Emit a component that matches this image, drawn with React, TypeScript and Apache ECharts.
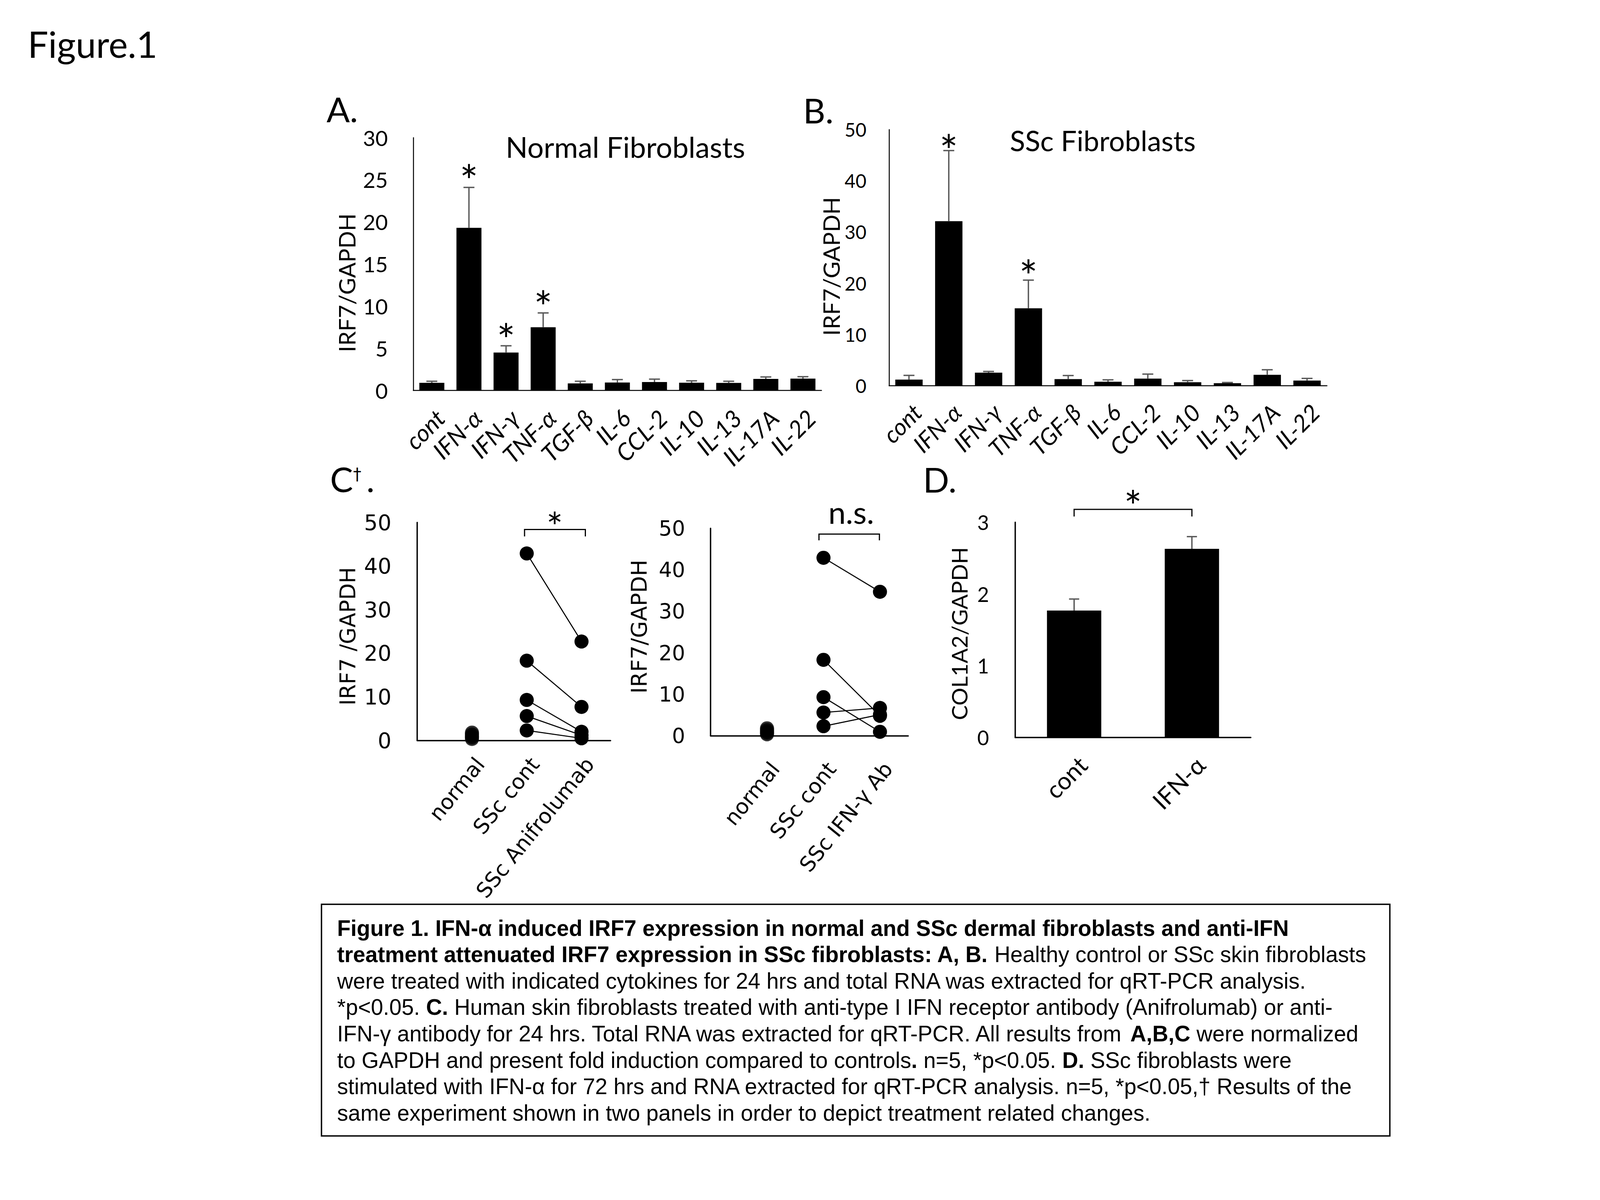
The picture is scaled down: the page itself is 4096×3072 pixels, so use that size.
import React, { useEffect, useRef } from 'react';
import * as echarts from 'echarts';

// ---------------- data ----------------
const cytokines = ['cont', 'IFN-α', 'IFN-γ', 'TNF-α', 'TGF-β', 'IL-6', 'CCL-2', 'IL-10', 'IL-13', 'IL-17A', 'IL-22'];
const normalMean = [0.9, 19.3, 4.5, 7.5, 0.83, 0.94, 1.0, 0.91, 0.89, 1.37, 1.4];
const normalErrTop = [1.09, 24.1, 5.3, 9.2, 1.09, 1.29, 1.34, 1.14, 1.09, 1.6, 1.63];
const normalStars = [[1, 1, 26], [2, 2, 7.1], [3, 3, 11]];
const sscMean = [1.17, 32.1, 2.54, 15.1, 1.27, 0.75, 1.36, 0.66, 0.47, 2.11, 0.99];
const sscErrTop = [2.0, 45.9, 2.77, 20.6, 1.97, 1.13, 2.25, 0.99, 0.61, 3.1, 1.41];
const sscStars = [[1, 1, 47.7], [3, 3, 23.2]];

const groupsC1 = ['normal', 'SSc cont', 'SSc Anifrolumab'];
const groupsC2 = ['normal', 'SSc cont', 'SSc IFN-γ Ab'];
const normalIRF7 = [1.8, 1.4, 1.0, 0.7, 0.35];
const sscContIRF7 = [42.9, 18.3, 9.3, 5.6, 2.3];
const anifrolumabIRF7 = [22.7, 7.7, 2.0, 1.2, 0.5];
const ifngAbIRF7 = [34.7, 4.8, 0.95, 6.7, 5.1];
const bracketC1 = [[1.96, 3.07, 48.4, 46.8]];
const starC1 = [[2.51, 2.51, 50.95]];
const bracketC2 = [[1.92, 2.99, 48.6, 47.1]];
const nsC2 = [[2.49, 2.49, 53.0]];

const groupsD = ['cont', 'IFN-α'];
const col1a2Mean = [1.77, 2.63];
const col1a2ErrTop = [1.93, 2.8];
const bracketD = [[0, 1, 3.18, 3.08]];
const starD = [[0, 1, 3.35]];

const axisA = { min: 0, max: 30, interval: 5 };
const axisB = { min: 0, max: 50, interval: 10 };
const axisC = { min: 0, max: 50, interval: 10 };
const axisD = { min: 0, max: 3, interval: 1 };

const captionLines = [
  '{b|Figure 1. IFN-α induced IRF7 expression in normal and SSc dermal fibroblasts and anti-IFN}',
  '{b|treatment attenuated IRF7 expression in SSc fibroblasts: A, B.}{n| Healthy control or SSc skin fibroblasts}',
  '{n|were treated with indicated cytokines for 24 hrs and total RNA was extracted for qRT-PCR analysis.}',
  '{n|*p<0.05. }{b|C.}{n| Human skin fibroblasts treated with anti-type I IFN receptor antibody (Anifrolumab) or anti-}',
  '{n|IFN-γ antibody for 24 hrs. Total RNA was extracted for qRT-PCR. All results from }{b|A,B,C}{n| were normalized}',
  '{n|to GAPDH and present fold induction compared to controls}{b|.}{n| n=5, *p<0.05. }{b|D.}{n| SSc fibroblasts were}',
  '{n|stimulated with IFN-α for 72 hrs and RNA extracted for qRT-PCR analysis. n=5, *p<0.05,† Results of the}',
  '{n|same experiment shown in two panels in order to depict treatment related changes.}',
];

// ---------------- styles ----------------
const W = 4096;
const H = 3072;
const LATO = "Lato, 'Open Sans', sans-serif";
const DEJAVU = "'DejaVu Sans', Verdana, sans-serif";
const ARIAL = "'Liberation Sans', Arial, sans-serif";
const ERR = '#595959';

function errorBars(ai: number, means: number[], tops: number[], capW: number, lw: number) {
  return {
    type: 'custom',
    xAxisIndex: ai,
    yAxisIndex: ai,
    silent: true,
    z: 4,
    encode: { x: 0, y: 2 },
    data: means.map((m, i) => [i, m, tops[i]]),
    renderItem: (_p: any, api: any) => {
      const i = api.value(0);
      const p0 = api.coord([i, api.value(1)]);
      const p1 = api.coord([i, api.value(2)]);
      const st = { stroke: ERR, lineWidth: lw };
      return {
        type: 'group',
        children: [
          { type: 'line', shape: { x1: p0[0], y1: p0[1], x2: p1[0], y2: p1[1] }, style: st },
          { type: 'line', shape: { x1: p1[0] - capW / 2, y1: p1[1], x2: p1[0] + capW / 2, y2: p1[1] }, style: st },
        ],
      };
    },
  };
}

function annot(ai: number, items: number[][], text: string, fontSize: number, fontFamily: string, dyEm: number) {
  return {
    type: 'custom',
    xAxisIndex: ai,
    yAxisIndex: ai,
    silent: true,
    clip: false,
    z: 6,
    encode: { x: 0, y: 2 },
    data: items,
    renderItem: (_p: any, api: any) => {
      const a = api.coord([api.value(0), api.value(2)]);
      const b = api.coord([api.value(1), api.value(2)]);
      return {
        type: 'text',
        x: (a[0] + b[0]) / 2,
        y: a[1] + dyEm * fontSize,
        style: { text, fill: '#000', fontSize, fontFamily, align: 'center', verticalAlign: 'middle' },
      };
    },
  };
}

function bracket(ai: number, items: number[][], lw: number) {
  return {
    type: 'custom',
    xAxisIndex: ai,
    yAxisIndex: ai,
    silent: true,
    clip: false,
    z: 6,
    encode: { x: 0, y: 2 },
    data: items,
    renderItem: (_p: any, api: any) => {
      const xa = api.value(0);
      const xb = api.value(1);
      const yt = api.value(2);
      const yk = api.value(3);
      const pts = [api.coord([xa, yk]), api.coord([xa, yt]), api.coord([xb, yt]), api.coord([xb, yk])];
      return { type: 'polyline', shape: { points: pts }, style: { stroke: '#000', fill: 'none', lineWidth: lw } };
    },
  };
}

function yAxisOf(gi: number, rng: any, font: string, size: number, margin: number, lw: number) {
  return {
    type: 'value',
    gridIndex: gi,
    min: rng.min,
    max: rng.max,
    interval: rng.interval,
    axisLine: { show: true, lineStyle: { color: '#000', width: lw } },
    axisTick: { show: false },
    splitLine: { show: false },
    axisLabel: { margin, color: '#000', fontFamily: font, fontSize: size },
  };
}

function catAxis(gi: number, cats: string[], size: number, italic: boolean, margin: number, lw: number) {
  return {
    type: 'category',
    gridIndex: gi,
    data: cats,
    axisLine: { show: true, lineStyle: { color: '#000', width: lw } },
    axisTick: { show: false },
    splitLine: { show: false },
    axisLabel: {
      interval: 0,
      rotate: 45,
      margin,
      color: '#000',
      fontFamily: LATO,
      fontSize: size,
      fontStyle: italic ? 'italic' : 'normal',
      align: 'right',
      verticalAlign: 'top',
    },
  };
}

function groupAxis(gi: number, groups: string[], max: number, margin: number) {
  return {
    type: 'value',
    gridIndex: gi,
    min: 0,
    max,
    interval: 1,
    axisLine: { show: true, lineStyle: { color: '#000', width: 3.5 } },
    axisTick: { show: false },
    splitLine: { show: false },
    axisLabel: {
      showMaxLabel: false,
      rotate: 51,
      margin,
      color: '#000',
      fontFamily: DEJAVU,
      fontSize: 54,
      align: 'right',
      verticalAlign: 'top',
      formatter: (v: number) => (Number.isInteger(v) && v >= 1 && v <= groups.length ? groups[v - 1] : ''),
    },
  };
}

function pairedLines(ai: number, before: number[], after: number[]) {
  return before.map((v, i) => ({
    type: 'line',
    xAxisIndex: ai,
    yAxisIndex: ai,
    clip: false,
    silent: true,
    z: 3,
    data: [
      [2, v],
      [3, after[i]],
    ],
    symbol: 'circle',
    symbolSize: 36,
    itemStyle: { color: '#000' },
    lineStyle: { color: '#000', width: 2.7 },
  }));
}

function normalDots(ai: number) {
  return {
    type: 'scatter',
    xAxisIndex: ai,
    yAxisIndex: ai,
    clip: false,
    silent: true,
    z: 3,
    symbol: 'circle',
    symbolSize: 36,
    itemStyle: { color: '#000' },
    data: normalIRF7.map((v) => [1, v]),
  };
}

function txt(text: string, x: number, y: number, fontSize: number, fontFamily: string, align: string) {
  return { type: 'text', x, y, silent: true, style: { text, fill: '#000', fontSize, fontFamily, align, verticalAlign: 'middle' } };
}

function rot(text: string, x: number, y: number, fontSize: number, fontFamily: string) {
  return {
    type: 'text',
    x,
    y,
    rotation: Math.PI / 2,
    silent: true,
    style: { text, fill: '#000', fontSize, fontFamily, align: 'center', verticalAlign: 'middle' },
  };
}

function buildOption() {
  const gridBase = { containLabel: false, outerBoundsMode: 'none' };
  const capSize = 56.5;
  const rich = {
    b: { fontFamily: ARIAL, fontSize: capSize, fontWeight: 'bold', fill: '#000' },
    n: { fontFamily: ARIAL, fontSize: capSize, fill: '#000' },
  };
  const caption = captionLines.map((line, i) => ({
    type: 'text',
    x: 863,
    y: 2376 + 67.6 * i,
    silent: true,
    style: { text: line, rich, fontFamily: ARIAL, fontSize: capSize, fill: '#000', align: 'left', verticalAlign: 'middle' },
  }));

  return {
    animation: false,
    backgroundColor: '#fff',
    grid: [
      { ...gridBase, left: 1058, top: 352.5, width: 1045, height: 647 },
      { ...gridBase, left: 2276, top: 331.7, width: 1121, height: 655.5 },
      { ...gridBase, left: 1068, top: 1337.6, width: 495, height: 558 },
      { ...gridBase, left: 1819, top: 1352.5, width: 506, height: 531 },
      { ...gridBase, left: 2599, top: 1337, width: 603, height: 551 },
    ],
    xAxis: [
      catAxis(0, cytokines, 61, true, 38, 2.5),
      catAxis(1, cytokines, 60, true, 36, 2.5),
      groupAxis(2, groupsC1, 3.53, 34),
      groupAxis(3, groupsC2, 3.5, 58),
      catAxis(4, groupsD, 62, false, 37, 3.5),
    ],
    yAxis: [
      yAxisOf(0, axisA, LATO, 55, 65, 2.5),
      yAxisOf(1, axisB, LATO, 48, 58, 2.5),
      yAxisOf(2, axisC, DEJAVU, 55, 66, 3.5),
      yAxisOf(3, axisC, DEJAVU, 53, 65, 3.5),
      yAxisOf(4, axisD, LATO, 52, 67, 3.5),
    ],
    series: [
      { type: 'bar', xAxisIndex: 0, yAxisIndex: 0, data: normalMean, barWidth: 64, itemStyle: { color: '#000' }, silent: true },
      errorBars(0, normalMean, normalErrTop, 28, 3.5),
      annot(0, normalStars, '*', 112, LATO, 0.2),
      { type: 'bar', xAxisIndex: 1, yAxisIndex: 1, data: sscMean, barWidth: 70, itemStyle: { color: '#000' }, silent: true },
      errorBars(1, sscMean, sscErrTop, 28, 3.5),
      annot(1, sscStars, '*', 112, LATO, 0.2),
      normalDots(2),
      ...pairedLines(2, sscContIRF7, anifrolumabIRF7),
      bracket(2, bracketC1, 3),
      annot(2, starC1, '*', 100, LATO, 0.2),
      normalDots(3),
      ...pairedLines(3, sscContIRF7, ifngAbIRF7),
      bracket(3, bracketC2, 3),
      annot(3, nsC2, 'n.s.', 80, LATO, -0.13),
      { type: 'bar', xAxisIndex: 4, yAxisIndex: 4, data: col1a2Mean, barWidth: 139, itemStyle: { color: '#000' }, silent: true },
      errorBars(4, col1a2Mean, col1a2ErrTop, 26, 3.5),
      bracket(4, bracketD, 3),
      annot(4, starD, '*', 108, LATO, 0.2),
    ],
    graphic: [
      txt('Figure.1', 71, 112, 93, LATO, 'left'),
      txt('A.', 836, 279, 88, LATO, 'left'),
      txt('B.', 2056, 282, 88, LATO, 'left'),
      txt('C', 845, 1226, 88, LATO, 'left'),
      txt('†', 904, 1213, 42, DEJAVU, 'left'),
      txt('.', 938, 1226, 88, LATO, 'left'),
      txt('D.', 2363, 1227, 88, LATO, 'left'),
      txt('Normal Fibroblasts', 1601, 375, 74, LATO, 'center'),
      txt('SSc Fibroblasts', 2823, 359, 72, LATO, 'center'),
      rot('IRF7/GAPDH', 887, 724, 59, LATO),
      rot('IRF7/GAPDH', 2127, 682, 59, LATO),
      rot('IRF7 /GAPDH', 890, 1629, 55, DEJAVU),
      rot('IRF7/GAPDH', 1635, 1604, 56, DEJAVU),
      rot('COL1A2/GAPDH', 2455, 1622, 57, LATO),
      {
        type: 'rect',
        silent: true,
        shape: { x: 823, y: 2315, width: 2735, height: 593 },
        style: { fill: 'none', stroke: '#000', lineWidth: 3.5 },
      },
      ...caption,
    ],
  };
}

export default function App() {
  const ref = useRef<HTMLDivElement>(null);
  useEffect(() => {
    if (!ref.current) return;
    const chart = echarts.init(ref.current, null, { renderer: 'svg', width: W, height: H });
    chart.setOption(buildOption() as any);
    return () => {
      chart.dispose();
    };
  }, []);
  return (
    <div
      ref={ref}
      style={{ position: 'absolute', left: 0, top: 0, width: W, height: H, background: '#fff' }}
    />
  );
}
